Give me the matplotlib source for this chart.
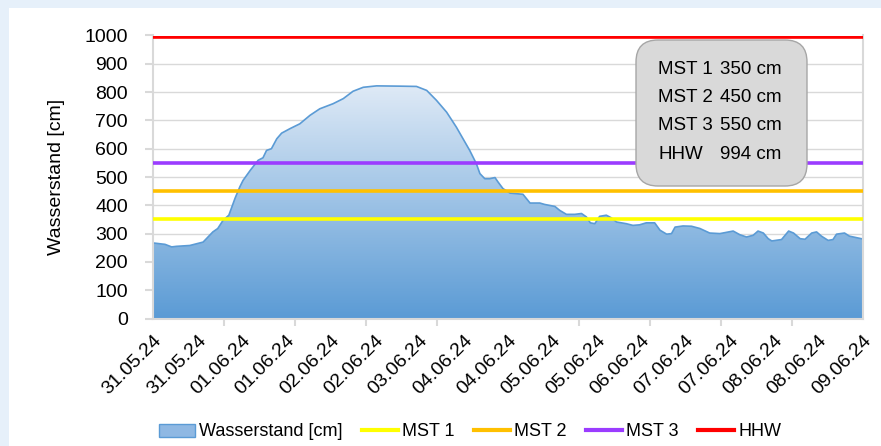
"""
Pegelverlauf Wasserstand mit Meldestufen
"""
import numpy as np
import matplotlib.pyplot as plt
from matplotlib.patches import Rectangle, FancyBboxPatch, Patch, Polygon
from matplotlib.lines import Line2D
from matplotlib.colors import LinearSegmentedColormap
from matplotlib.transforms import IdentityTransform

plt.rcParams['font.family'] = ['Liberation Sans', 'DejaVu Sans']

# Achsenbeschriftung (Kategorieachse)
datum_labels = ['31.05.24', '31.05.24', '01.06.24', '01.06.24', '02.06.24', '02.06.24',
                '03.06.24', '04.06.24', '04.06.24', '05.06.24', '05.06.24', '06.06.24',
                '07.06.24', '07.06.24', '08.06.24', '08.06.24', '09.06.24']

# Wasserstand [cm], Position in Label-Einheiten
pos = [0.00, 0.27, 0.42, 0.53, 0.83, 1.13, 1.24, 1.35, 1.46, 1.58, 1.71, 1.85, 1.96,
       2.03, 2.19, 2.37, 2.48, 2.56, 2.67, 2.79, 2.90, 3.09, 3.31, 3.54, 3.76, 4.06,
       4.29, 4.51, 4.74, 5.04, 5.57, 5.94, 6.17, 6.39, 6.62, 6.84, 6.99, 7.14, 7.29,
       7.37, 7.48, 7.59, 7.71, 7.78, 7.89, 8.05, 8.34, 8.50, 8.72, 8.83, 9.06, 9.17,
       9.32, 9.51, 9.66, 9.77, 9.86, 9.96, 10.07, 10.22, 10.33, 10.45, 10.67, 10.82,
       10.97, 11.12, 11.31, 11.43, 11.58, 11.69, 11.77, 11.95, 12.14, 12.33, 12.55,
       12.78, 13.08, 13.23, 13.38, 13.53, 13.64, 13.76, 13.87, 13.95, 14.17, 14.33,
       14.44, 14.59, 14.70, 14.85, 14.96, 15.07, 15.22, 15.33, 15.41, 15.59, 15.70,
       15.85, 16.00]
pegel = [267, 262, 253, 255, 258, 270, 288, 306, 318, 347, 365, 425, 466,
         488, 523, 559, 568, 594, 600, 635, 655, 671, 688, 718, 741, 759,
         777, 803, 817, 822, 821, 820, 806, 771, 729, 676, 635, 594, 547,
         512, 494, 494, 498, 482, 459, 443, 439, 408, 408, 403, 396, 382,
         368, 368, 371, 359, 338, 335, 361, 365, 356, 341, 335, 329,
         331, 338, 338, 312, 298, 300, 323, 327, 326, 318, 302,
         300, 309, 296, 288, 294, 309, 302, 282, 274, 279, 309,
         302, 282, 280, 302, 306, 291, 276, 279, 298, 302, 291,
         286, 281]

# Meldestufen
stufen = ['MST 1', 'MST 2', 'MST 3', 'HHW']
stufen_werte = [350, 450, 550, 994]
stufen_farben = ['#ffff00', '#ffc000', '#9b3cff', '#ff0000']

fig = plt.figure(figsize=(8.81, 4.46), dpi=100, facecolor='#e6f0fa')
fig.add_artist(Rectangle((9 / 881, 0), 1, 438 / 446, transform=fig.transFigure,
                         facecolor='white', edgecolor='none', zorder=-1))

ax = fig.add_axes([153 / 881, 1 - 318.5 / 446, 709.7 / 881, 283 / 446])

x = np.array(pos)
y = np.array(pegel)

# Flaeche mit Farbverlauf
verts = np.column_stack([np.r_[x[0], x, x[-1]], np.r_[0, y, 0]])
clip = Polygon(verts, closed=True, transform=ax.transData, facecolor='none', edgecolor='none')
ax.add_patch(clip)
cmap = LinearSegmentedColormap.from_list('wasser', ['#5b9bd5', '#dfeaf6'])
grad = np.linspace(0, 1, 256).reshape(-1, 1)
im = ax.imshow(grad, extent=[x[0], x[-1], 0, y.max()], origin='lower', cmap=cmap,
               aspect='auto', zorder=1)
im.set_clip_path(clip)
ax.plot(x, y, color='#5b9bd5', lw=1.2, zorder=2)

for wert, farbe in zip(stufen_werte, stufen_farben):
    ax.axhline(wert, color=farbe, lw=2.6, zorder=3)

ax.set_xlim(0, 16)
ax.set_ylim(0, 1000)
ax.set_yticks(range(0, 1001, 100))
ax.grid(axis='y', color='#d9d9d9', lw=1)
ax.set_axisbelow(True)

ax.set_xticks(range(len(datum_labels)))
ax.set_xticklabels(datum_labels, rotation=45, ha='right', rotation_mode='anchor', fontsize=14)
ax.set_xticks(np.linspace(0, 16, 11), minor=True)
ax.tick_params(axis='x', which='major', length=0, pad=10)
ax.tick_params(axis='x', which='minor', length=5, color='#d9d9d9', width=1.5)
ax.tick_params(axis='y', length=6, color='#d9d9d9', width=1.5, pad=12, labelsize=14)

ax.spines['top'].set_visible(False)
for s in ['left', 'bottom', 'right']:
    ax.spines[s].set_color('#d9d9d9')
    ax.spines[s].set_linewidth(1.5)

ax.set_ylabel('Wasserstand [cm]', fontsize=14)
ax.yaxis.set_label_coords(-0.124, 0.5)

# Infobox
r = 22
x0, x1, y0, y1 = 636, 807, 446 - 186, 446 - 40
box = FancyBboxPatch((x0 + r, y0 + r), x1 - x0 - 2 * r, y1 - y0 - 2 * r,
                     boxstyle=f'round,pad={r},rounding_size={r}',
                     transform=IdentityTransform(), facecolor='#d9d9d9',
                     edgecolor='#a6a6a6', lw=1, zorder=4)
fig.add_artist(box)
for i, (name, wert) in enumerate(zip(stufen, stufen_werte)):
    ty = 1 - (69 + i * 28.4) / 446
    fig.text(658 / 881, ty, name, fontsize=13.5, va='center', zorder=5)
    fig.text(720 / 881, ty, f'{wert} cm', fontsize=13.5, va='center', zorder=5)

# Legende
handles = [Patch(facecolor='#8fb8e3', edgecolor='#5b9bd5', label='Wasserstand [cm]')]
handles += [Line2D([], [], color=f, lw=3, label=n) for n, f in zip(stufen, stufen_farben)]
fig.legend(handles=handles, loc='center', bbox_to_anchor=(470 / 881, 1 - 432 / 446),
           ncol=5, frameon=False, fontsize=13, handlelength=2.0, handletextpad=0.2,
           columnspacing=1.1)

fig.savefig('out.png', dpi=100)
